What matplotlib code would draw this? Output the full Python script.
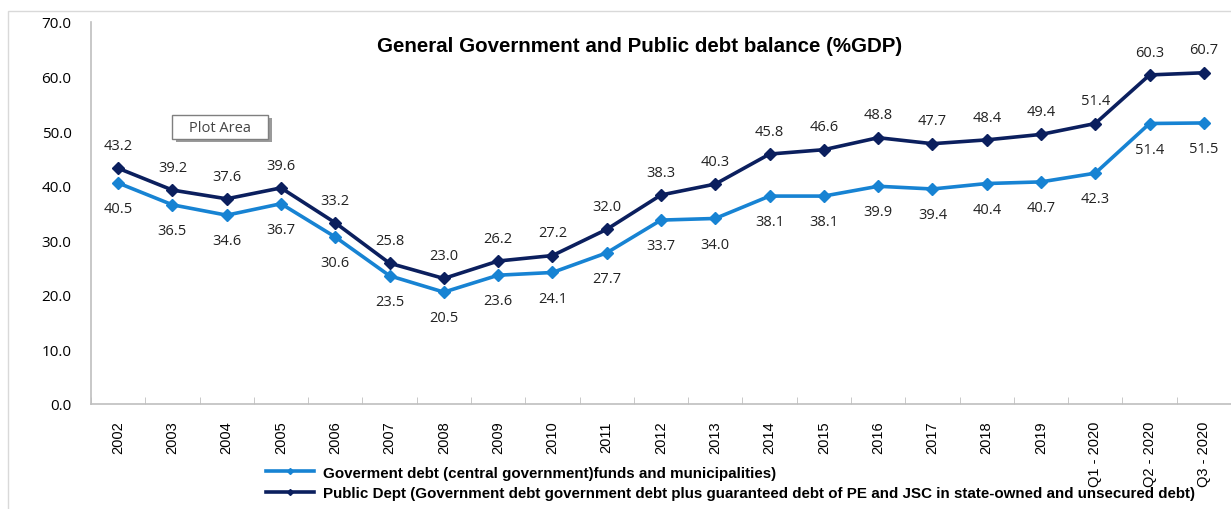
import numpy as np
import matplotlib
matplotlib.use('Agg')
import matplotlib.pyplot as plt
from matplotlib.patches import Rectangle

# Chart data
CATEGORIES = ["2002", "2003", "2004", "2005", "2006", "2007", "2008", "2009", "2010",
              "2011", "2012", "2013", "2014", "2015", "2016", "2017", "2018", "2019",
              "Q1 - 2020", "Q2 - 2020", "Q3 - 2020"]
GOV_DEBT = [40.5, 36.5, 34.6, 36.7, 30.6, 23.5, 20.5, 23.6, 24.1, 27.7, 33.7, 34.0,
            38.1, 38.1, 39.9, 39.4, 40.4, 40.7, 42.3, 51.4, 51.5]
PUBLIC_DEBT = [43.2, 39.2, 37.6, 39.6, 33.2, 25.8, 23.0, 26.2, 27.2, 32.0, 38.3, 40.3,
               45.8, 46.6, 48.8, 47.7, 48.4, 49.4, 51.4, 60.3, 60.7]
Y_TICKS = [0, 10, 20, 30, 40, 50, 60, 70]
LABELS = ["Goverment debt (central government)funds and municipalities)",
          "Public Dept (Government debt government debt plus guaranteed debt of PE and JSC in state-owned and unsecured debt)"]
TITLE = "General Government and Public debt balance (%GDP)"

# Style constants
LIGHT_BLUE = "#1783d3"
NAVY = "#0b1f5e"
SPINE_GRAY = "#bfbfbf"
LABEL_FONT = ["Open Sans", "DejaVu Sans"]
ARIAL = ["Liberation Sans", "DejaVu Sans"]
W, H = 1231, 510

fig = plt.figure(figsize=(W / 100, H / 100), dpi=100)
ax = fig.add_axes([91 / W, 1 - 405 / H, 1140 / W, 382 / H])

x = np.arange(len(CATEGORIES))
ax.plot(x, GOV_DEBT, '-D', color=LIGHT_BLUE, lw=2.6, ms=6, label=LABELS[0])
ax.plot(x, PUBLIC_DEBT, '-D', color=NAVY, lw=2.6, ms=6, label=LABELS[1])

# data labels
for xi, v in zip(x, GOV_DEBT):
    ax.annotate(f"{v:.1f}", (xi, v), xytext=(0, -13), textcoords='offset points',
                ha='center', va='top', fontsize=10.5, family=LABEL_FONT, color="#222222")
for xi, v in zip(x, PUBLIC_DEBT):
    ax.annotate(f"{v:.1f}", (xi, v), xytext=(0, 11), textcoords='offset points',
                ha='center', va='bottom', fontsize=10.5, family=LABEL_FONT, color="#222222")

ax.set_xlim(-0.5, len(CATEGORIES) - 0.5)
ax.set_ylim(0, 70)
ax.set_yticks(Y_TICKS)
ax.set_yticklabels([f"{t:.1f}" for t in Y_TICKS], fontsize=11, family=LABEL_FONT)
ax.tick_params(axis='y', length=0, pad=14)

ax.set_xticks(x)
ax.set_xticklabels(CATEGORIES, rotation=90, fontsize=10.5, family=ARIAL)
ax.tick_params(axis='x', length=0, pad=12)
ax.set_xticks(np.arange(-0.5, len(CATEGORIES)), minor=True)
ax.tick_params(axis='x', which='minor', direction='in', length=5, color=SPINE_GRAY)

for s in ['top', 'right']:
    ax.spines[s].set_visible(False)
for s in ['left', 'bottom']:
    ax.spines[s].set_color(SPINE_GRAY)
    ax.spines[s].set_linewidth(1.2)

fig.text(640 / W, 1 - 47 / H, TITLE, ha='center', va='center',
         fontsize=14.8, fontweight='bold', family=ARIAL)

# "Plot Area" tooltip box with shadow
fig.patches.append(Rectangle((176 / W, 1 - 143 / H), 96 / W, 24 / H,
                             transform=fig.transFigure, facecolor="#9a9a9a",
                             edgecolor='none', zorder=5))
fig.patches.append(Rectangle((172 / W, 1 - 140 / H), 96 / W, 24 / H,
                             transform=fig.transFigure, facecolor="white",
                             edgecolor="#7f7f7f", lw=1, zorder=6))
fig.text(220 / W, 1 - 128 / H, "Plot Area", ha='center', va='center',
         fontsize=10.5, family=LABEL_FONT, color="#444444", zorder=7)

leg = fig.legend(loc='upper left', bbox_to_anchor=(258 / W, 1 - 459 / H),
                 frameon=False, handlelength=3.2, handletextpad=0.6,
                 labelspacing=0.45, borderpad=0,
                 prop={'family': ARIAL, 'size': 10.9, 'weight': 'bold'})
for h in leg.legend_handles:
    h.set_markersize(3)

# outer chart border (only left and top edges fall inside the image)
fig.patches.append(Rectangle((8 / W, -0.1), 1.2, 1.1 - 12 / H,
                             transform=fig.transFigure, fill=False,
                             edgecolor="#d9d9d9", lw=1))

fig.savefig("out.png", dpi=100)
